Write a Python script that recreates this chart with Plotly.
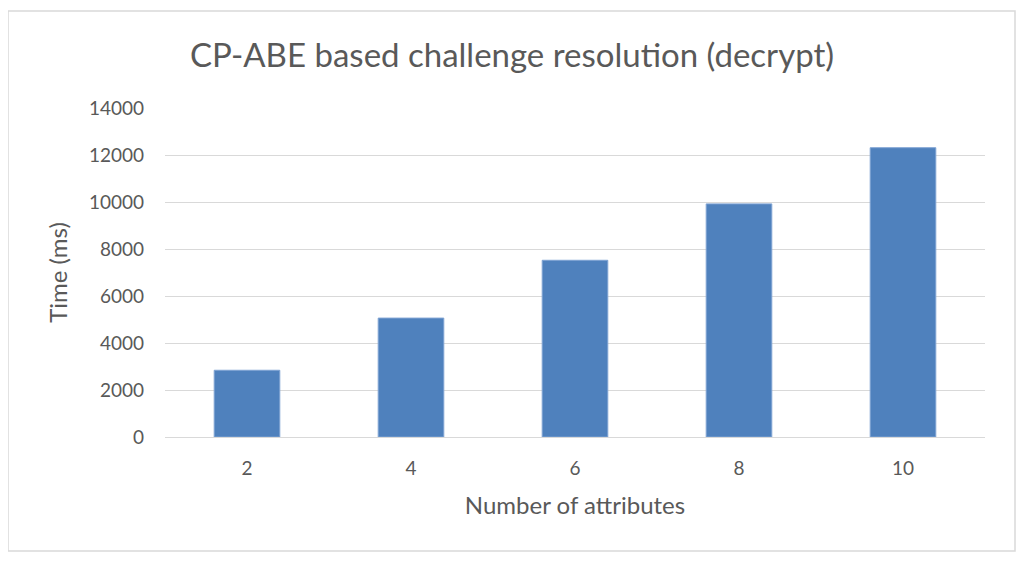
import plotly.graph_objects as go

# number of attributes vs decrypt time
attributes = ["2", "4", "6", "8", "10"]
time_ms = [2840, 5060, 7520, 9920, 12310]
y_ticks = [0, 2000, 4000, 6000, 8000, 10000, 12000, 14000]

# page body has an 8px margin, so size the figure to sit inside the window
W, H = 1008, 549
L, R, T, B = 157, 31, 100, 120
pw, ph = W - L - R, H - T - B

fig = go.Figure()
fig.add_trace(go.Bar(x=attributes, y=time_ms,
                     marker=dict(color="#4F81BD", line=dict(color="#7FA3D3", width=1))))

fig.update_layout(
    width=W, height=H,
    margin=dict(l=L, r=R, t=T, b=B),
    paper_bgcolor="white", plot_bgcolor="white",
    font=dict(family="Lato", color="#595959", size=19),
    title=dict(text="CP-ABE based challenge resolution (decrypt)",
               x=0.5, xanchor="center", y=1 - 47 / H, yanchor="middle",
               font=dict(size=33, color="#595959")),
    bargap=0.6,
    showlegend=False,
    xaxis=dict(title=dict(text="Number of attributes", font=dict(size=24), standoff=19),
               showgrid=False, ticks="", showline=False, ticklabelstandoff=18),
    yaxis=dict(title=dict(text="Time (ms)", font=dict(size=24), standoff=14),
               range=[0, 14000], tickvals=y_ticks, tickformat="d",
               gridcolor="#D9D9D9", gridwidth=1,
               zeroline=True, zerolinecolor="#D9D9D9", zerolinewidth=1,
               showline=False, ticks="", ticklabelstandoff=20),
)

# chart border
fig.add_shape(type="rect", xref="paper", yref="paper",
              x0=(0 - L) / pw, x1=(1007 - L) / pw,
              y0=(H - B - 543) / ph, y1=(H - B - 3) / ph,
              line=dict(color="#D9D9D9", width=1.5), layer="below")

fig.write_html("out.html")
